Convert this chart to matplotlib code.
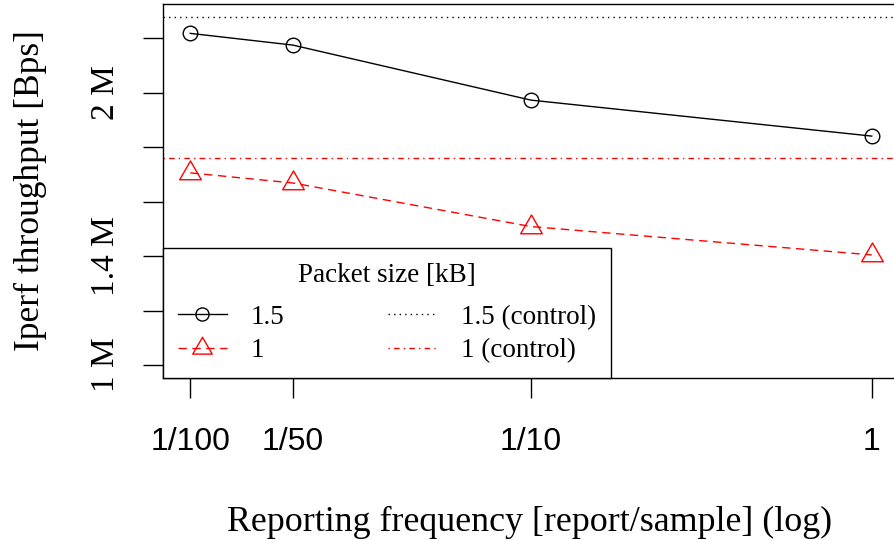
import matplotlib
matplotlib.use("Agg")
import matplotlib.pyplot as plt
from matplotlib.path import Path
import numpy as np

# ---- data ----
freq = [0.01, 0.02, 0.1, 1.0]
freq_labels = ["1/100", "1/50", "1/10", "1"]
tput_15 = [2.217, 2.174, 1.972, 1.840]      # MBps, packet size 1.5 kB
tput_1 = [1.705, 1.668, 1.508, 1.404]       # MBps, packet size 1 kB
control_15 = 2.277
control_1 = 1.760
yticks = [1.0, 1.2, 1.4, 1.6, 1.8, 2.0, 2.2]
ytick_labels = ["1 M", "", "1.4 M", "", "", "2 M", ""]

SERIF = ["Liberation Serif", "DejaVu Serif"]
SANS = ["Liberation Sans", "DejaVu Sans"]

W, H = 894, 540
fig = plt.figure(figsize=(W / 100, H / 100), dpi=100)
ax = fig.add_axes([163 / W, 1 - 378 / H, (899 - 163) / W, (378 - 4) / H])

tri = Path([(0, 1), (-0.866, -0.5), (0.866, -0.5), (0, 1)],
           [Path.MOVETO, Path.LINETO, Path.LINETO, Path.CLOSEPOLY])

lw = 1.0
l15, = ax.plot(freq, np.array(tput_15) * 1e6, color="black", lw=lw,
               marker="o", ms=10.5, mfc="none", mec="black", mew=1.0,
               label="1.5")
l1, = ax.plot(freq, np.array(tput_1) * 1e6, color="#ff0000", lw=lw,
              dashes=(6, 4), marker=tri, ms=18, mfc="none", mec="#ff0000",
              mew=1.0, label="1")
c15 = ax.axhline(control_15 * 1e6, color="black", lw=lw, dashes=(1, 3),
                 label="1.5 (control)")
c1 = ax.axhline(control_1 * 1e6, color="#ff0000", lw=lw, dashes=(1, 3, 4, 3),
                label="1 (control)")

ax.set_xscale("log")
ax.set_xlim(10 ** -2.08, 10 ** 0.08)
ax.set_ylim((1.0 - 13 / 272.5) * 1e6, (1.0 + 361 / 272.5) * 1e6)
ax.minorticks_off()
ax.set_xticks(freq)
ax.set_xticklabels(freq_labels, fontfamily=SANS, fontsize=23)
ax.set_yticks(np.array(yticks) * 1e6)
ax.set_yticklabels(ytick_labels, fontfamily=SERIF, fontsize=24,
                   rotation=90, va="center")
ax.tick_params(axis="x", length=14.4, width=1.0, pad=21, direction="out")
ax.tick_params(axis="y", length=14.4, width=1.0, pad=16, direction="out")
for s in ["left", "top", "bottom", "right"]:
    ax.spines[s].set_linewidth(1.0)

fig.text(530 / W, (540 - 531) / H, "Reporting frequency [report/sample] (log)",
         ha="center", va="baseline", fontfamily=SERIF, fontsize=25.8)
fig.text(30 / W, 1 - 191 / H, "Iperf throughput [Bps]", rotation=90,
         ha="center", va="center", fontfamily=SERIF, fontsize=25.5)

leg = ax.legend(handles=[l15, l1, c15, c1], ncol=2, loc="lower left",
                bbox_to_anchor=(0, 0), borderaxespad=0,
                title="Packet size [kB]",
                prop={"family": SERIF, "size": 19.5},
                title_fontproperties={"family": SERIF, "size": 19.5},
                fancybox=False, framealpha=1, edgecolor="black",
                handlelength=1.8, handletextpad=0.9, columnspacing=3.8,
                borderpad=0.55, labelspacing=0.3, numpoints=1,
                markerscale=0.9)
leg.get_frame().set_linewidth(1.0)
leg._legend_box.sep = 12.0

fig.savefig("out.png", dpi=100)
